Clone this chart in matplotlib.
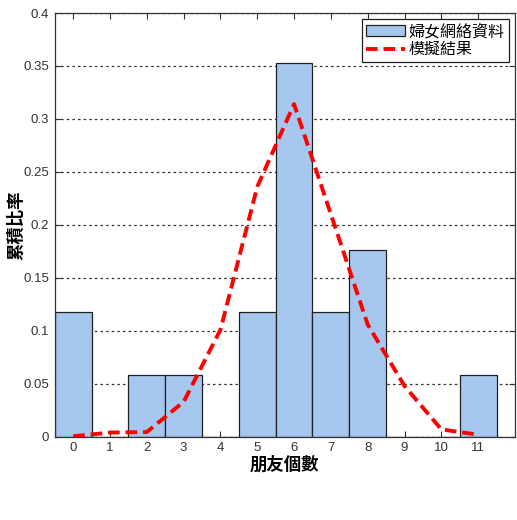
import matplotlib
matplotlib.use("Agg")
import matplotlib.pyplot as plt
import numpy as np

plt.rcParams['font.family'] = ['Liberation Sans', 'Noto Sans CJK TC', 'DejaVu Sans']

friends = [0, 1, 2, 3, 4, 5, 6, 7, 8, 9, 10, 11]
data_ratio = [0.1176, 0.0, 0.0588, 0.0588, 0.0, 0.1176, 0.3529, 0.1176, 0.1765, 0.0, 0.0, 0.0588]
sim_ratio = [0.0005, 0.004, 0.0045, 0.033, 0.101, 0.236, 0.314, 0.21, 0.106, 0.048, 0.007, 0.002]
yticks = [0, 0.05, 0.1, 0.15, 0.2, 0.25, 0.3, 0.35, 0.4]
ytick_labels = ['0', '0.05', '0.1', '0.15', '0.2', '0.25', '0.3', '0.35', '0.4']

fig = plt.figure(figsize=(5.17, 5.20), dpi=100)
ax = fig.add_axes([0.106, 0.160, 0.890, 0.815])

bars = ax.bar(friends, data_ratio, width=1.0, color='#A7C8EE', edgecolor='#202020',
              linewidth=0.9, label='婦女網絡資料', zorder=2)
line, = ax.plot(friends, sim_ratio, color='#FF0000', linestyle=(0, (3, 1.5)), linewidth=2.8,
                label='模擬結果', zorder=3)

ax.set_xlim(-0.5, 12)
ax.set_ylim(0, 0.4)
ax.set_xticks(friends)
ax.set_yticks(yticks)
ax.set_yticklabels(ytick_labels)
ax.yaxis.grid(True, linestyle=(0, (2, 2.5)), color='#303030', linewidth=0.9, zorder=1)
ax.set_axisbelow(True)
ax.tick_params(direction='in', top=True, right=True, labelsize=9.5,
               labelcolor='#333333', length=4, color='#333333', pad=4)
for s in ax.spines.values():
    s.set_color('#333333')
    s.set_linewidth(0.9)

ax.set_xlabel('朋友個數', fontsize=12.5, fontweight='bold',
              family=['Noto Sans CJK TC', 'DejaVu Sans'], labelpad=1)
ax.set_ylabel('累積比率', fontsize=12.5, fontweight='bold',
              family=['Noto Sans CJK TC', 'DejaVu Sans'])
ax.yaxis.set_label_coords(-0.064, 0.5)

leg = ax.legend(handles=[bars, line], loc='upper right',
                prop={'family': ['Noto Sans CJK TC', 'DejaVu Sans'], 'size': 11.5},
                fancybox=False, framealpha=1, edgecolor='#202020', borderaxespad=0.4,
                handlelength=2.4, handletextpad=0.25, labelspacing=0.05, borderpad=0.25)
leg.get_frame().set_linewidth(0.9)

fig.savefig('out.png', dpi=100)
